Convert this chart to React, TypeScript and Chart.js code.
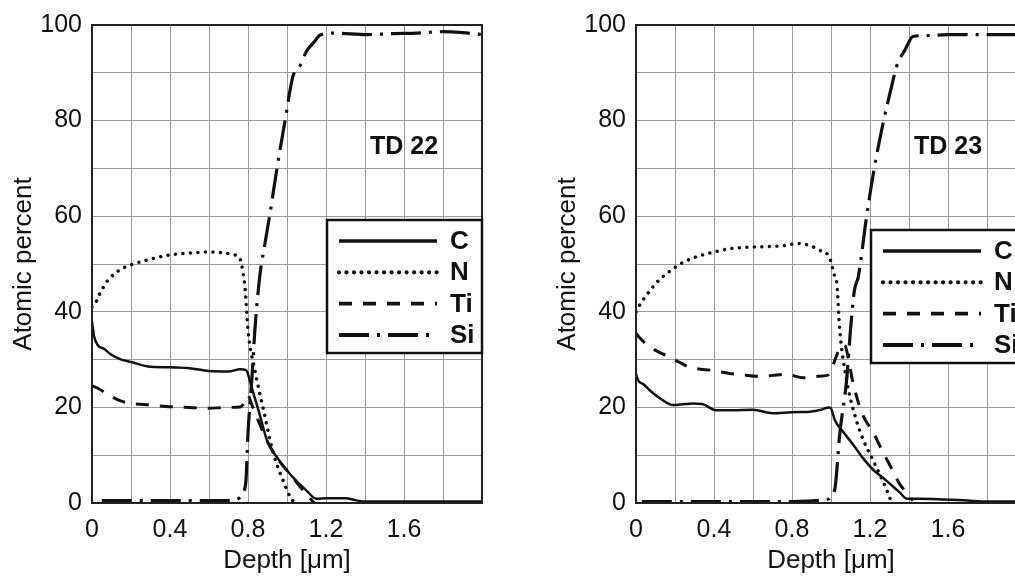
import React, { useEffect, useRef } from 'react';
import { Chart, registerables } from 'chart.js';

Chart.register(...registerables);

// ---------- TD 22 (left panel) ----------
const td22DepthC = [0, 0.01, 0.03, 0.06, 0.1, 0.15, 0.2, 0.3, 0.4, 0.5, 0.6, 0.7, 0.76, 0.79, 0.82, 0.86, 0.9, 0.95, 1.0, 1.05, 1.1, 1.15, 1.2, 1.3, 1.35, 1.4, 1.6, 1.8, 2.0];
const td22C = [38, 35, 33, 32.3, 31, 30, 29.5, 28.5, 28.4, 28.2, 27.6, 27.5, 28, 27.8, 24, 18.5, 12.8, 9.5, 6.8, 4.5, 2.6, 0.9, 1.0, 1.0, 0.6, 0.3, 0.3, 0.3, 0.3];

const td22DepthN = [0, 0.02, 0.04, 0.08, 0.14, 0.2, 0.28, 0.4, 0.5, 0.59, 0.66, 0.72, 0.76, 0.775, 0.785, 0.8, 0.835, 0.88, 0.93, 0.98, 1.02, 1.04];
const td22N = [41, 42, 43.8, 46.5, 48.7, 49.8, 50.8, 51.9, 52.3, 52.5, 52.4, 52, 51, 48, 45, 36.2, 27.8, 19.4, 10.4, 4.7, 1, 0];

const td22DepthTi = [0, 0.03, 0.09, 0.15, 0.21, 0.3, 0.38, 0.5, 0.59, 0.7, 0.76, 0.79, 0.8, 0.82, 0.86, 0.9, 0.96, 1.0, 1.05, 1.1, 1.14];
const td22Ti = [24.5, 24, 22.5, 21.3, 20.8, 20.5, 20.2, 20, 19.8, 20, 20.1, 21.5, 22.5, 20.5, 16.5, 12.8, 8.8, 6.8, 4.3, 1.8, 0];

const td22DepthSi = [0.05, 0.2, 0.4, 0.6, 0.72, 0.76, 0.78, 0.79, 0.8, 0.82, 0.835, 0.86, 0.89, 0.913, 0.947, 0.99, 1.03, 1.067, 1.1, 1.14, 1.17, 1.24, 1.41, 1.55, 1.67, 1.8, 1.9, 2.0];
const td22Si = [0.5, 0.5, 0.5, 0.5, 0.6, 1.2, 2.5, 5, 14.6, 26, 36, 47.3, 55, 60.6, 69.6, 80, 89.2, 91.5, 94.5, 96.5, 97.9, 98.3, 98, 98.2, 98.3, 98.6, 98.4, 98];

// ---------- TD 23 (right panel) ----------
const td23DepthC = [0, 0.01, 0.04, 0.07, 0.12, 0.19, 0.25, 0.29, 0.34, 0.41, 0.5, 0.6, 0.7, 0.8, 0.89, 0.95, 0.99, 1.0, 1.02, 1.06, 1.11, 1.16, 1.22, 1.26, 1.3, 1.35, 1.39, 1.45, 1.55, 1.7, 1.8, 2.0];
const td23C = [27, 25.7, 24.8, 23.6, 22, 20.5, 20.7, 20.8, 20.7, 19.4, 19.4, 19.5, 18.8, 19, 19.1, 19.5, 20, 19.8, 17.3, 15, 12.4, 9.6, 6.8, 5.5, 4.1, 2.3, 0.9, 0.9, 0.8, 0.5, 0.3, 0.3];

const td23DepthN = [0, 0.02, 0.06, 0.11, 0.17, 0.24, 0.31, 0.4, 0.48, 0.56, 0.65, 0.75, 0.84, 0.9, 0.94, 0.99, 1.02, 1.03, 1.045, 1.08, 1.13, 1.17, 1.216, 1.25, 1.28, 1.31];
const td23N = [40, 41.5, 43.8, 46.3, 48.4, 50.3, 51.5, 52.5, 53.2, 53.5, 53.6, 53.8, 54.3, 53.7, 52.9, 51.5, 47.3, 45.9, 36.2, 25.7, 17.3, 12.8, 8.9, 6, 3.3, 0.2];

const td23DepthTi = [0, 0.02, 0.07, 0.12, 0.17, 0.22, 0.27, 0.33, 0.38, 0.48, 0.55, 0.63, 0.7, 0.77, 0.86, 0.93, 0.98, 1.0, 1.02, 1.05, 1.07, 1.09, 1.11, 1.16, 1.22, 1.25, 1.28, 1.32, 1.35, 1.39, 1.42];
const td23Ti = [35.5, 34.5, 32.7, 31.5, 30.6, 29.5, 28.5, 28, 27.8, 27.1, 26.8, 26.5, 26.7, 26.9, 26.2, 26.5, 26.7, 27.5, 29.9, 32.7, 33, 30, 25.7, 18.7, 14.5, 12, 9.6, 6.5, 4.1, 2, 0.5];

const td23DepthSi = [0.03, 0.2, 0.4, 0.6, 0.8, 0.88, 0.95, 0.99, 1.0, 1.02, 1.045, 1.08, 1.1, 1.12, 1.14, 1.18, 1.22, 1.27, 1.31, 1.336, 1.36, 1.38, 1.4, 1.42, 1.5, 1.6, 1.7, 1.8, 1.94, 2.0];
const td23Si = [0.3, 0.3, 0.3, 0.3, 0.3, 0.4, 0.6, 0.9, 1.5, 3, 14.5, 25.7, 36.2, 44.5, 47.3, 59.2, 69.6, 80, 87, 91.3, 93.5, 94.8, 96.5, 97.6, 97.8, 98, 98, 98, 98, 98];

// ---------- labels ----------
const seriesNames = ['C', 'N', 'Ti', 'Si'];
const xTitle = 'Depth [\u03bcm]';
const yTitle = 'Atomic percent';
const panelLabels = ['TD 22', 'TD 23'];

// ---------- styles ----------
const FONT = '"Liberation Sans", Arial, Helvetica, sans-serif';
const SERIES_STYLES = [
  { width: 2.5, dash: [] as number[], cap: 'butt' as CanvasLineCap },
  { width: 3.5, dash: [0.01, 7.5], cap: 'round' as CanvasLineCap },
  { width: 3, dash: [13, 11], cap: 'butt' as CanvasLineCap },
  { width: 3.2, dash: [30, 8, 3, 8], cap: 'butt' as CanvasLineCap },
];

const toPoints = (xs: number[], ys: number[]) => xs.map((x, i) => ({ x, y: ys[i] }));

const decoPlugin = {
  id: 'panelDeco',
  afterDatasetsDraw(chart: any, _args: any, opts: any) {
    const { ctx, chartArea: a } = chart;
    const xs = chart.scales.x;
    const ys = chart.scales.y;
    ctx.save();
    ctx.setLineDash([]);
    ctx.strokeStyle = '#222';
    ctx.lineWidth = 2;
    ctx.strokeRect(a.left, a.top, a.right - a.left, a.bottom - a.top);

    ctx.fillStyle = '#111';
    ctx.font = `bold 25px ${FONT}`;
    ctx.textAlign = 'center';
    ctx.textBaseline = 'middle';
    ctx.fillText(opts.label, xs.getPixelForValue(opts.labelX), ys.getPixelForValue(opts.labelY));

    const bw = 155;
    const bh = 133;
    const bx = a.right - bw;
    const by = opts.legendTop;
    ctx.fillStyle = '#fff';
    ctx.fillRect(bx, by, bw, bh);
    ctx.strokeStyle = '#111';
    ctx.lineWidth = 2.5;
    ctx.strokeRect(bx, by, bw, bh);
    ctx.font = `bold 26px ${FONT}`;
    seriesNames.forEach((name, i) => {
      const s = SERIES_STYLES[i];
      const y = by + 21 + i * 31.3;
      ctx.beginPath();
      ctx.setLineDash(s.dash);
      ctx.lineCap = s.cap;
      ctx.lineWidth = s.width + 0.8;
      ctx.strokeStyle = '#111';
      ctx.moveTo(bx + 12, y);
      ctx.lineTo(bx + 110, y);
      ctx.stroke();
      ctx.setLineDash([]);
      ctx.fillStyle = '#111';
      ctx.textAlign = 'left';
      ctx.fillText(name, bx + 123, y + 1);
    });
    ctx.restore();
  },
};

type PanelProps = {
  left: number;
  label: string;
  legendTop: number;
  depths: number[][];
  values: number[][];
};

function Panel({ left, label, legendTop, depths, values }: PanelProps) {
  const ref = useRef<HTMLCanvasElement>(null);
  useEffect(() => {
    if (!ref.current) return;
    const tickFont = { family: FONT, size: 25 };
    const titleFont = { family: FONT, size: 26 };
    const chart = new Chart(ref.current, {
      type: 'line',
      data: {
        datasets: seriesNames.map((name, i) => ({
          label: name,
          data: toPoints(depths[i], values[i]),
          borderColor: '#111',
          borderWidth: SERIES_STYLES[i].width,
          borderDash: SERIES_STYLES[i].dash,
          borderCapStyle: SERIES_STYLES[i].cap,
          pointRadius: 0,
          fill: false,
          cubicInterpolationMode: 'monotone',
        })),
      },
      options: {
        animation: false,
        responsive: false,
        maintainAspectRatio: false,
        layout: { padding: { top: 25, right: 25, left: 0, bottom: 0 } },
        plugins: {
          legend: { display: false },
          tooltip: { enabled: false },
          panelDeco: { label, labelX: 1.6, labelY: 74.5, legendTop },
        } as any,
        scales: {
          x: {
            type: 'linear',
            min: 0,
            max: 2,
            ticks: {
              stepSize: 0.2,
              autoSkip: false,
              maxRotation: 0,
              padding: 12,
              color: '#111',
              font: tickFont,
              callback: (value: any) => {
                const t = Math.round(Number(value) * 10);
                if (t % 4 !== 0 || t >= 20) return '';
                return t === 0 ? '0' : (t / 10).toFixed(1);
              },
            },
            grid: { color: '#9a9a9a', lineWidth: 1, drawTicks: false },
            border: { display: false },
            title: { display: true, text: xTitle, color: '#111', font: titleFont, padding: { top: 0, bottom: 0 } },
            afterFit: (s: any) => {
              s.height = 73;
            },
          },
          y: {
            type: 'linear',
            min: 0,
            max: 100,
            ticks: {
              stepSize: 10,
              padding: 10,
              color: '#111',
              font: tickFont,
              callback: (value: any) => {
                const v = Math.round(Number(value));
                return v % 20 === 0 ? String(v) : '';
              },
            },
            grid: { color: '#9a9a9a', lineWidth: 1, drawTicks: false },
            border: { display: false },
            title: { display: true, text: yTitle, color: '#111', font: titleFont, padding: { top: 8, bottom: 0 } },
            afterFit: (s: any) => {
              s.width = 92;
            },
          },
        },
      } as any,
      plugins: [decoPlugin],
    });
    return () => chart.destroy();
  }, []);
  return (
    <canvas
      ref={ref}
      width={507}
      height={576}
      style={{ position: 'absolute', left, top: 0, width: 507, height: 576 }}
    />
  );
}

export default function App() {
  return (
    <div
      style={{
        position: 'fixed',
        left: 0,
        top: 0,
        width: 1015,
        height: 576,
        overflow: 'hidden',
        background: '#fff',
      }}
    >
      <Panel
        left={0}
        label={panelLabels[0]}
        legendTop={220}
        depths={[td22DepthC, td22DepthN, td22DepthTi, td22DepthSi]}
        values={[td22C, td22N, td22Ti, td22Si]}
      />
      <Panel
        left={544}
        label={panelLabels[1]}
        legendTop={230}
        depths={[td23DepthC, td23DepthN, td23DepthTi, td23DepthSi]}
        values={[td23C, td23N, td23Ti, td23Si]}
      />
    </div>
  );
}
